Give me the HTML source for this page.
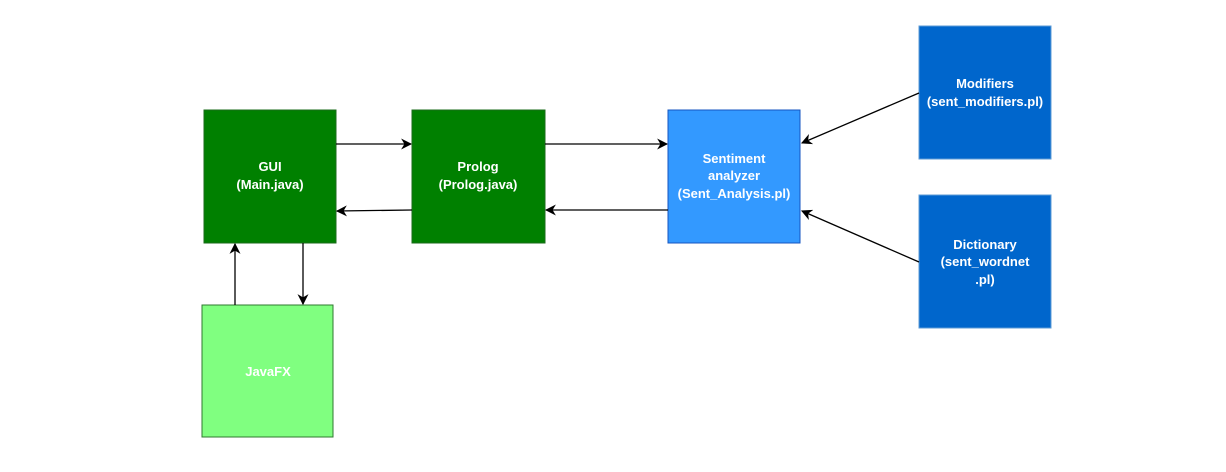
<!DOCTYPE html>
<html><head><meta charset="utf-8"><style>
html,body{margin:0;padding:0;background:#fff;width:1226px;height:472px;overflow:hidden}
text{font-family:"Liberation Sans",Arial,sans-serif;font-weight:bold;font-size:13px;fill:#fff;text-anchor:middle}
</style></head><body>
<svg width="1226" height="472" viewBox="0 0 1226 472" xmlns="http://www.w3.org/2000/svg">
<defs><marker id="a" viewBox="0 0 10 10" refX="9" refY="5" markerWidth="11" markerHeight="11" orient="auto" markerUnits="userSpaceOnUse"><path d="M0,0 L10,5 L0,10 L3,5 Z" fill="#000"/></marker></defs>
<rect x="204" y="110" width="132" height="133" fill="#008000" stroke="#1a6b1a" stroke-width="1"/>
<rect x="412" y="110" width="133" height="133" fill="#008000" stroke="#1a6b1a" stroke-width="1"/>
<rect x="668" y="110" width="132" height="133" fill="#3399ff" stroke="#1555c0" stroke-width="1"/>
<rect x="919" y="26" width="132" height="133" fill="#0066cc" stroke="#5d9bd6" stroke-width="1"/>
<rect x="919" y="195" width="132" height="133" fill="#0066cc" stroke="#5d9bd6" stroke-width="1"/>
<rect x="202" y="305" width="131" height="132" fill="#80ff80" stroke="#2f7a2f" stroke-width="1"/>
<text x="270" y="171">GUI</text><text x="270" y="189">(Main.java)</text>
<text x="478" y="171">Prolog</text><text x="478" y="189">(Prolog.java)</text>
<text x="734" y="163">Sentiment</text><text x="734" y="180">analyzer</text><text x="734" y="198">(Sent_Analysis.pl)</text>
<text x="985" y="88">Modifiers</text><text x="985" y="106">(sent_modifiers.pl)</text>
<text x="985" y="249">Dictionary</text><text x="985" y="266">(sent_wordnet</text><text x="985" y="284">.pl)</text>
<text x="268" y="376">JavaFX</text>
<g stroke="#000" stroke-width="1.3" fill="none">
<line x1="336" y1="144" x2="411" y2="144" marker-end="url(#a)"/>
<line x1="412" y1="210" x2="337" y2="211" marker-end="url(#a)"/>
<line x1="545" y1="144" x2="667" y2="144" marker-end="url(#a)"/>
<line x1="668" y1="210" x2="546" y2="210" marker-end="url(#a)"/>
<line x1="919" y1="93" x2="802" y2="143" marker-end="url(#a)"/>
<line x1="919" y1="262" x2="802" y2="211" marker-end="url(#a)"/>
<line x1="235" y1="305" x2="235" y2="244" marker-end="url(#a)"/>
<line x1="303" y1="243" x2="303" y2="304" marker-end="url(#a)"/>
</g>
</svg>
</body></html>
